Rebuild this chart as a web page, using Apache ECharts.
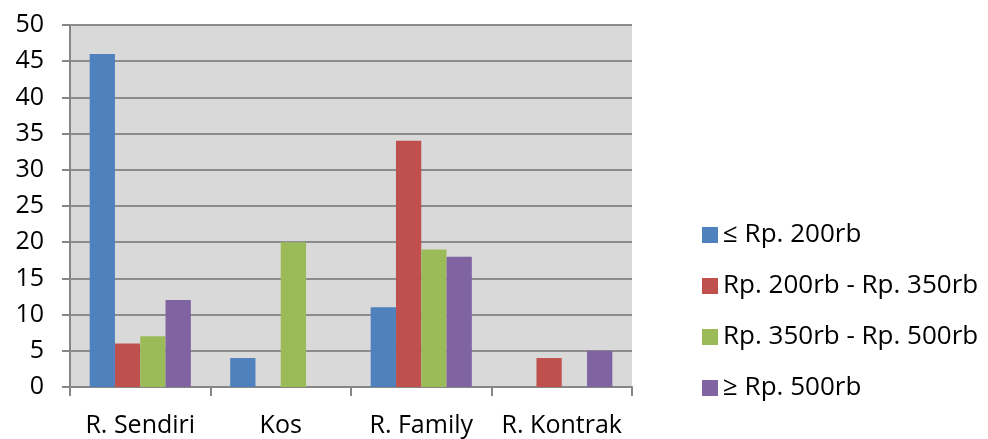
<!DOCTYPE html>
<html>
<head>
<meta charset="utf-8">
<script src="https://cdn.jsdelivr.net/npm/echarts@6/dist/echarts.min.js"></script>
<style>
  html, body { margin: 0; padding: 0; background: #fff; }
  #chart { width: 988px; height: 439px; }
</style>
</head>
<body>
<div id="chart"></div>
<script>
// kategori tempat tinggal
const categories = ["R. Sendiri", "Kos", "R. Family", "R. Kontrak"];
const seriesNames = ["≤ Rp. 200rb", "Rp. 200rb - Rp. 350rb", "Rp. 350rb - Rp. 500rb", "≥ Rp. 500rb"];
// nilai per seri
const le200 = [46, 4, 11, 0];
const r200to350 = [6, 0, 34, 4];
const r350to500 = [7, 20, 19, 0];
const ge500 = [12, 0, 18, 5];
const colors = ["#4f81bd", "#c0504d", "#9bbb59", "#8064a2"];

const values = [le200, r200to350, r350to500, ge500];
const font = "'Open Sans', sans-serif";

let chart = echarts.init(document.getElementById("chart"));
chart.setOption({
  animation: false,
  grid: { left: 70, right: 356, top: 25, bottom: 52, show: true, backgroundColor: "#d9d9d9", borderWidth: 0 },
  legend: {
    orient: "vertical",
    left: 697,
    top: 217,
    itemWidth: 16,
    itemHeight: 16,
    itemGap: 25,
    icon: "rect",
    textStyle: { fontFamily: font, fontSize: 26, color: "#000", padding: [0, 0, 0, 0] },
    data: seriesNames
  },
  xAxis: {
    type: "category",
    data: categories,
    axisLine: { lineStyle: { color: "#868686", width: 2 } },
    axisTick: { show: true, length: 9, lineStyle: { color: "#868686", width: 2 } },
    axisLabel: { interval: 0, fontFamily: font, fontSize: 25, color: "#000", margin: 26 }
  },
  yAxis: {
    type: "value",
    min: 0,
    max: 50,
    interval: 5,
    axisLine: { show: true, lineStyle: { color: "#868686", width: 2 } },
    axisTick: { show: true, length: 8, lineStyle: { color: "#868686", width: 2 } },
    axisLabel: { fontFamily: font, fontSize: 25, color: "#000", margin: 26 },
    splitLine: { lineStyle: { color: "#8c8c8c", width: 2 } }
  },
  series: seriesNames.map((name, i) => ({
    name: name,
    type: "bar",
    data: values[i],
    barGap: "0%",
    barCategoryGap: "28%",
    itemStyle: { color: colors[i] }
  }))
});
</script>
</body>
</html>
